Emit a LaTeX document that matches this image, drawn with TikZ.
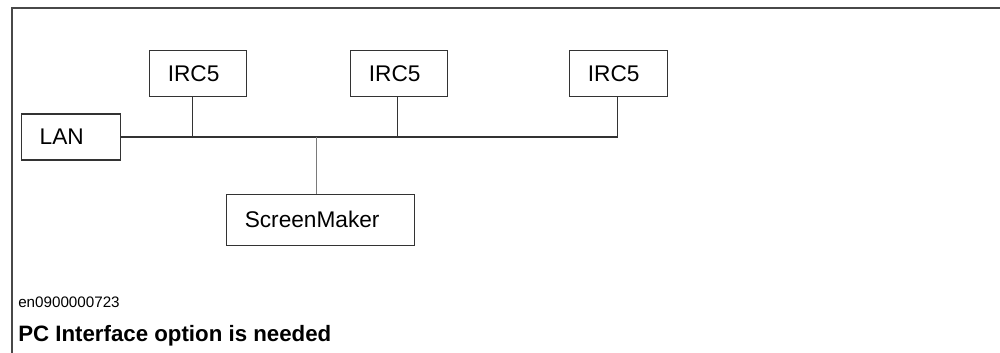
\documentclass[tikz,border=0pt]{standalone}
\usepackage{fontspec}
\setmainfont{Liberation Sans}
\usepackage{tikz}
\usetikzlibrary{positioning}
\usetikzlibrary{calc}
\definecolor{framegray}{HTML}{484848}
\definecolor{boxgray}{HTML}{333333}
\definecolor{tapgray}{HTML}{7A7A7A}
\tikzset{
  % boxes with the label set to the left
  unit/.style={draw=boxgray, line width=0.8pt, rectangle, text width=#1, align=left,
    inner xsep=14pt, inner ysep=0pt, minimum height=34.5pt,
    font=\fontsize{17}{19}\selectfont},
  link/.style={draw=boxgray, line width=0.8pt}
}

\begin{document}
\begin{tikzpicture}
    \useasboundingbox (0,0) rectangle (750pt,-264.75pt);

    % Frame: top and left edges only
    \coordinate (fcorner) at (9pt,-6pt);
    \coordinate (fright) at (750pt,-6pt);
    \coordinate (fbottom) at (9pt,-264.75pt);
    \draw [framegray, line width=1.5pt] (fright) -- (fcorner) -- (fbottom);

    % Place nodes
    \node [unit=46.25pt] (lan) at (52.9pt,-102.75pt) {LAN};
    \node [unit=44.75pt, above right=12pt and 21pt of lan] (ircA) {IRC5};
    \node [unit=44.75pt, right=77.25pt of ircA] (ircB) {IRC5};
    \node [unit=45.5pt, right=90.75pt of ircB] (ircC) {IRC5};
    \node [unit=113pt, minimum height=38.25pt, below right=24.75pt and 78.75pt of lan] (screen) {ScreenMaker};

    % Draw bus and drops
    \path [link] ([xshift=-0.75pt]ircC.south) |- (lan.east);
    \path [link] ([xshift=-4.1pt]ircA.south) -- ([xshift=-4.1pt]ircA.south |- lan.east);
    \path [link] ([xshift=-0.75pt]ircB.south) -- ([xshift=-0.75pt]ircB.south |- lan.east);
    \draw [tapgray, line width=0.8pt] ([xshift=-3pt]screen.north) -- ([xshift=-3pt]screen.north |- lan.east);

    % Figure reference and caption
    \node [anchor=west, inner sep=0pt, font=\fontsize{11.4}{13}\selectfont] (figid) at (13.5pt,-226.5pt) {en0900000723};
    \node [anchor=base west, inner sep=0pt, font=\bfseries\fontsize{16.7}{18}\selectfont] (caption) at (13.5pt,-255.75pt) {PC Interface option is needed};
\end{tikzpicture}
\end{document}
